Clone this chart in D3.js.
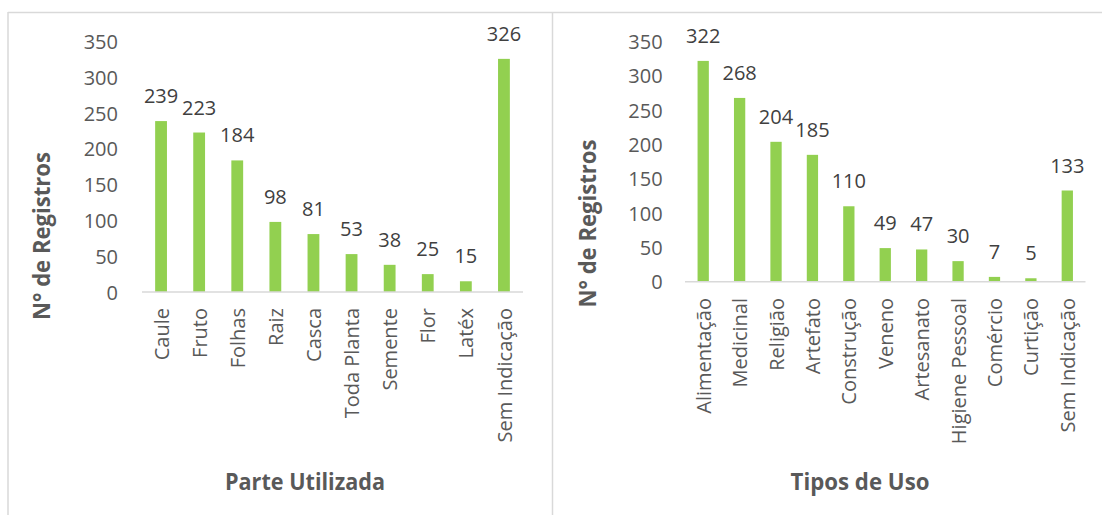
<!DOCTYPE html>
<html>
<head>
<meta charset="utf-8">
<script src="https://cdn.jsdelivr.net/npm/d3@7"></script>
<style>
  html, body { margin: 0; padding: 0; background: #fff; }
  svg { display: block; }
  text { font-family: "Open Sans", sans-serif; }
</style>
</head>
<body>
<svg id="chart" width="1102" height="515"></svg>
<script>
// ---- data ----
const partes = ["Caule", "Fruto", "Folhas", "Raiz", "Casca", "Toda Planta", "Semente", "Flor", "Latéx", "Sem Indicação"];
const partesValores = [239, 223, 184, 98, 81, 53, 38, 25, 15, 326];

const usos = ["Alimentação", "Medicinal", "Religião", "Artefato", "Construção", "Veneno", "Artesanato", "Higiene Pessoal", "Comércio", "Curtição", "Sem Indicação"];
const usosValores = [322, 268, 204, 185, 110, 49, 47, 30, 7, 5, 133];

const yTicks = [0, 50, 100, 150, 200, 250, 300, 350];
const yTitle = "N° de Registros";
const xTitles = ["Parte Utilizada", "Tipos de Uso"];

const svg = d3.select("#chart");
const frameColor = "#d9d9d9";
const barColor = "#92D050";
const tickColor = "#595959";
const valueColor = "#404040";

// frames
svg.append("line").attr("x1", 8).attr("x2", 1102).attr("y1", 12.5).attr("y2", 12.5)
  .attr("stroke", frameColor).attr("stroke-width", 1.5);
svg.append("line").attr("x1", 8).attr("x2", 8).attr("y1", 12).attr("y2", 515)
  .attr("stroke", frameColor).attr("stroke-width", 1.5);
svg.append("line").attr("x1", 552.5).attr("x2", 552.5).attr("y1", 12).attr("y2", 515)
  .attr("stroke", frameColor).attr("stroke-width", 1.5);

function drawPanel(cfg) {
  const g = svg.append("g");
  const x = d3.scaleBand().domain(cfg.cats).range([cfg.x0, cfg.x1])
    .paddingInner(0.69).paddingOuter(0.345);
  const y = d3.scaleLinear().domain([0, 350]).range([cfg.yBase, cfg.yTop]);

  // y tick labels
  const yAxis = d3.axisLeft(y).tickValues(yTicks).tickSize(0).tickPadding(0);
  const ya = g.append("g").attr("transform", `translate(${cfg.yLabelX},0)`).call(yAxis);
  ya.select(".domain").remove();
  ya.selectAll("text").attr("font-size", 20).attr("fill", tickColor)
    .attr("font-family", "Open Sans, sans-serif").attr("dy", "0.35em");

  // bars
  g.selectAll("rect.bar").data(cfg.vals).join("rect")
    .attr("x", (d, i) => x(cfg.cats[i]))
    .attr("width", x.bandwidth())
    .attr("y", d => y(d))
    .attr("height", d => y(0) - y(d))
    .attr("fill", barColor);

  // baseline
  g.append("line").attr("x1", cfg.x0).attr("x2", cfg.x1)
    .attr("y1", y(0)).attr("y2", y(0))
    .attr("stroke", frameColor).attr("stroke-width", 1.5);

  // value labels
  g.selectAll("text.val").data(cfg.vals).join("text")
    .attr("class", "val")
    .attr("x", (d, i) => x(cfg.cats[i]) + x.bandwidth() / 2)
    .attr("y", d => y(d) - 18)
    .attr("text-anchor", "middle")
    .attr("font-size", 20)
    .attr("fill", valueColor)
    .text(d => d);

  // category labels
  g.selectAll("text.cat").data(cfg.cats).join("text")
    .attr("class", "cat")
    .attr("transform", d => `translate(${x(d) + x.bandwidth() / 2},${cfg.catTop}) rotate(-90)`)
    .attr("text-anchor", "end")
    .attr("dy", "0.38em")
    .attr("font-size", 20)
    .attr("fill", tickColor)
    .text(d => d);

  // y title
  g.append("text")
    .attr("transform", `translate(${cfg.yTitleX},${cfg.yTitleY}) rotate(-90)`)
    .attr("text-anchor", "middle")
    .attr("font-size", 22.5).attr("font-weight", "bold")
    .attr("fill", tickColor)
    .attr("textLength", 168).attr("lengthAdjust", "spacingAndGlyphs")
    .text(yTitle);

  // x title
  g.append("text")
    .attr("x", cfg.xTitleX).attr("y", 490)
    .attr("text-anchor", "middle")
    .attr("font-size", 23).attr("font-weight", "bold")
    .attr("fill", tickColor)
    .attr("textLength", cfg.xTitleW).attr("lengthAdjust", "spacingAndGlyphs")
    .text(cfg.xTitle);
}

drawPanel({
  cats: partes, vals: partesValores,
  x0: 142, x1: 523, yBase: 292, yTop: 41.7,
  yLabelX: 118, catTop: 308,
  yTitleX: 49.5, yTitleY: 236,
  xTitle: xTitles[0], xTitleX: 305, xTitleW: 160
});

drawPanel({
  cats: usos, vals: usosValores,
  x0: 685, x1: 1085.5, yBase: 281.7, yTop: 41.7,
  yLabelX: 662.6, catTop: 298,
  yTitleX: 596, yTitleY: 223.5,
  xTitle: xTitles[1], xTitleX: 860, xTitleW: 139
});
</script>
</body>
</html>
